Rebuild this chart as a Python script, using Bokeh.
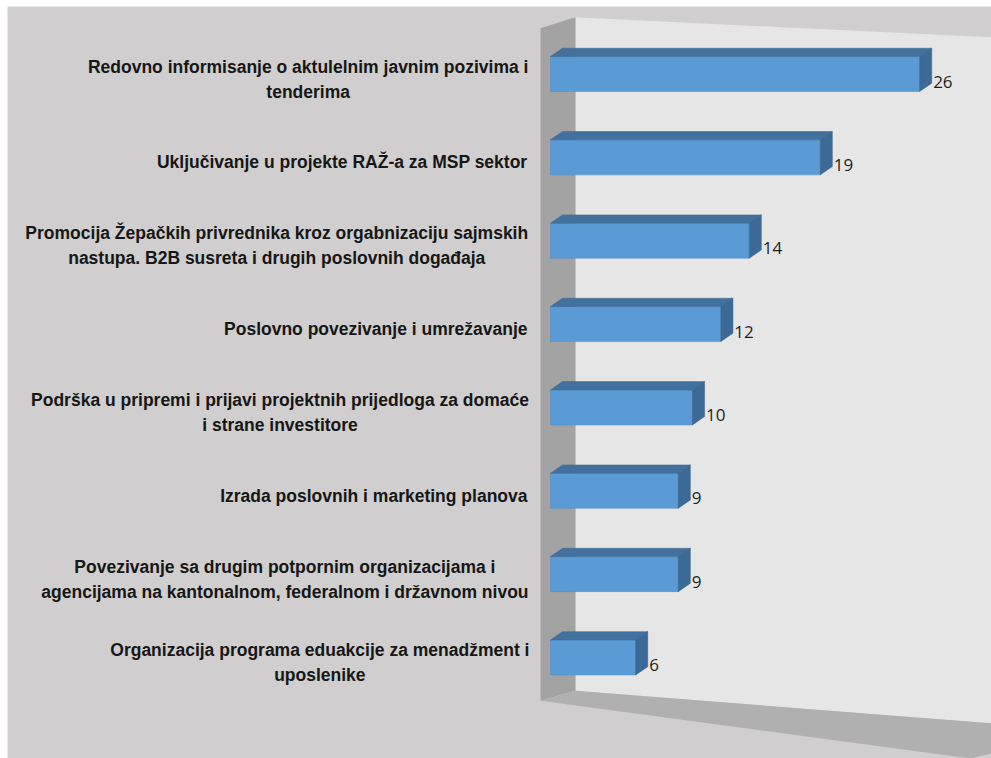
from bokeh.plotting import figure
from bokeh.models import Range1d, ColumnDataSource
from bokeh.core.properties import value
from bokeh.embed import file_html
from bokeh.resources import INLINE

# ---- data (top to bottom as in the reference) ----
categories = [
    "Redovno informisanje o aktulelnim javnim pozivima i\ntenderima",
    "Uključivanje u projekte RAŽ-a za MSP sektor",
    "Promocija Žepačkih privrednika kroz orgabnizaciju sajmskih\nnastupa. B2B susreta i drugih poslovnih događaja",
    "Poslovno povezivanje i umrežavanje",
    "Podrška u pripremi i prijavi projektnih prijedloga za domaće\ni strane investitore",
    "Izrada poslovnih i marketing planova",
    "Povezivanje sa drugim potpornim organizacijama i\nagencijama na kantonalnom, federalnom i državnom nivou",
    "Organizacija programa eduakcije za menadžment i\nuposlenike",
]
counts = [26, 19, 14, 12, 10, 9, 9, 6]

# ---- layout constants ----
W, H = 991, 758
BL, BT = 7, 6                      # white strips left / top
X0, X1 = -38.24, 31.06
Y0, Y1 = -1.212, 7.81
PX_PER_X = (W - BL) / (X1 - X0)
BAR_H = 0.42
DX, DY = 0.85, 0.10                # bar depth (3D look)
WF, WB = -0.7, 1.76                # side wall front / back x
LABEL_RIGHT = -1.62
LABEL_FS = 17.5

# approximate bold sans advance widths (em) used only to centre wrapped labels
_NARROW = set("ijlI.,:;'! ")
_SEMI = set("frt-")
_WIDE = set("mwMW")


def text_width_px(s, fs):
    w = 0.0
    for ch in s:
        if ch in _NARROW:
            w += 0.278
        elif ch in _SEMI:
            w += 0.36
        elif ch in _WIDE:
            w += 0.86
        elif ch.isupper():
            w += 0.70
        elif ch in "bdghnopquđ":
            w += 0.611
        elif ch in "zž":
            w += 0.5
        else:
            w += 0.556
    return w * fs


n = len(counts)
ypos = [n - 1 - i for i in range(n)]

p = figure(width=W, height=H, x_range=Range1d(X0, X1), y_range=Range1d(Y0, Y1),
           output_backend="svg", toolbar_location=None,
           min_border_left=BL, min_border_top=BT, min_border_right=0, min_border_bottom=0,
           x_axis_location=None, y_axis_location=None)
p.grid.visible = False
p.outline_line_color = None
p.background_fill_color = "#d0cece"
p.border_fill_color = "white"

# walls and floor (decoration)
p.patch([WB, X1, X1, WB], [-0.40, -0.79, 7.44, 7.68],
        fill_color="#e7e6e6", line_color=None)
p.patch([WF, WB, WB, WF], [-0.52, -0.40, 7.68, 7.55],
        fill_color="#a3a3a3", line_color=None)
p.patch([WF, WB, X1, X1, 29.6], [-0.52, -0.40, -0.79, -1.15, Y0],
        fill_color="#b0b0b0", line_color=None)

# bars: front faces
src = ColumnDataSource(dict(y=ypos, v=counts))
p.hbar(y="y", left=0, right="v", height=BAR_H, source=src,
       fill_color="#5b9bd5", line_color="#4f8cc4", line_width=0.5)

# top and end faces
top_xs, top_ys, end_xs, end_ys = [], [], [], []
for y, v in zip(ypos, counts):
    t, b = y + BAR_H / 2, y - BAR_H / 2
    top_xs.append([0, v, v + DX, DX])
    top_ys.append([t, t, t + DY, t + DY])
    end_xs.append([v, v + DX, v + DX, v])
    end_ys.append([b, b + DY, t + DY, t])
p.patches(top_xs, top_ys, fill_color="#41719c", line_color="#3b6790", line_width=0.5)
p.patches(end_xs, end_ys, fill_color="#3b6a96", line_color="#35618a", line_width=0.5)

# value labels
p.text(x=[v + DX + 0.1 for v in counts], y=[y - 0.09 for y in ypos],
       text=[str(v) for v in counts], text_font=value("Open Sans"),
       text_font_size="17px", text_color="#1e1e1e",
       text_align="left", text_baseline="middle")

# category labels
single_x, single_y, single_t = [], [], []
multi_x, multi_y, multi_t = [], [], []
for y, c in zip(ypos, categories):
    lines = c.split("\n")
    if len(lines) == 1:
        single_x.append(LABEL_RIGHT); single_y.append(y - 0.06); single_t.append(c)
    else:
        w_px = max(text_width_px(l, LABEL_FS) for l in lines)
        multi_x.append(LABEL_RIGHT - w_px / 2 / PX_PER_X); multi_y.append(y - 0.06); multi_t.append(c)

p.text(x=single_x, y=single_y, text=single_t, text_font=value("Liberation Sans"),
       text_font_size=f"{LABEL_FS}px", text_font_style="bold", text_color="#161616",
       text_align="right", text_baseline="middle")
p.text(x=multi_x, y=multi_y, text=multi_t, text_font=value("Liberation Sans"),
       text_font_size=f"{LABEL_FS}px", text_font_style="bold", text_color="#161616",
       text_align="center", text_baseline="middle", text_line_height=1.25)

open("out.html", "w").write(file_html(p, INLINE))
